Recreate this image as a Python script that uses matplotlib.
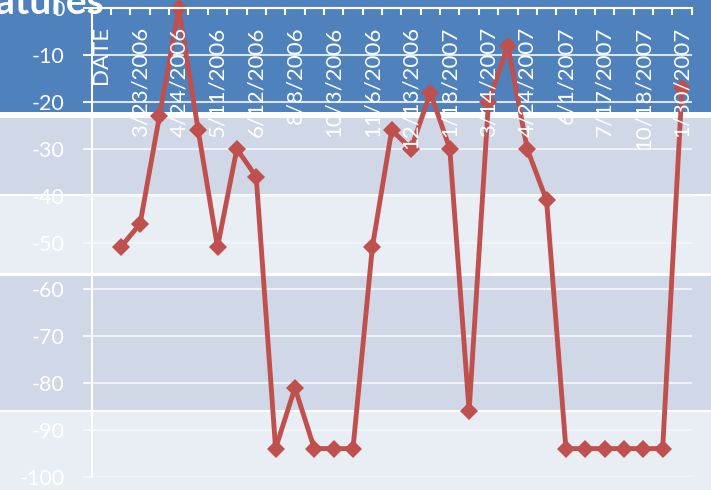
import matplotlib
matplotlib.use("Agg")
import matplotlib.pyplot as plt
from matplotlib.patches import Rectangle
import numpy as np

plt.rcParams['font.family'] = ['Lato', 'DejaVu Sans']

# Category axis: one slot per reading, labels shown on every other slot
tick_labels = ["DATE", "3/23/2006", "4/24/2006", "5/11/2006", "6/12/2006",
               "8/8/2006", "10/3/2006", "11/6/2006", "12/13/2006", "1/18/2007",
               "3/14/2007", "4/24/2007", "6/1/2007", "7/17/2007", "10/18/2007",
               "1/30/2007"]

# Temperature readings (first slot is the header, no value)
temps = [np.nan, -51, -46, -23, 0, -26, -51, -30, -36, -94, -81, -94, -94, -94,
         -51, -26, -30, -18, -30, -86, -20, -8, -30, -41, -94, -94, -94, -94,
         -94, -94, -17]

W, H = 711, 490
fig = plt.figure(figsize=(W / 100, H / 100), dpi=100)
fig.patch.set_facecolor("white")

# Slide table background: header row plus banded rows
bands = [(0, 112, "#4F81BD"), (118, 194, "#D0D8E8"), (196, 273, "#E9EDF4"),
         (276, 410, "#D0D8E8"), (412, 490, "#E9EDF4")]
for top, bot, col in bands:
    fig.add_artist(Rectangle((0, 1 - bot / H), 1, (bot - top) / H,
                             transform=fig.transFigure, facecolor=col,
                             edgecolor="none", zorder=-10))

fig.text(104 / W, 1 - 14 / H, "Temperatures", color="white", fontsize=28,
         fontweight="bold", ha="right", va="baseline")

left, right = 91.7, 691.7
top_px, bot_px = 8.3, 476.7
ax = fig.add_axes([left / W, 1 - bot_px / H, (right - left) / W, (bot_px - top_px) / H])
ax.set_facecolor("none")

n = len(temps)
x = np.arange(n)
ax.set_xlim(-0.5, n - 0.5)
ax.set_ylim(-100, 0)

# Horizontal gridlines
yt = np.arange(-100, 1, 10)
ax.hlines(yt, -0.5, n - 0.5, colors="#F4F6FA", linewidth=1.5, alpha=0.85, zorder=1)

ax.plot(x, temps, color="#C0504D", linewidth=3.5, marker="D", markersize=9.5,
        markeredgewidth=0, clip_on=False, zorder=2)

ax.set_axisbelow(False)
for s in ["top", "right"]:
    ax.spines[s].set_visible(False)
ax.spines["bottom"].set_position(("data", 0))
for s in ["bottom", "left"]:
    ax.spines[s].set_color("white")
    ax.spines[s].set_linewidth(1.5)

# Category boundaries as tick marks, labels centred on every other category
ax.set_xticks(np.arange(n + 1) - 0.5)
ax.set_xticklabels([])
ax.tick_params(axis="x", which="major", direction="out", length=5, width=1.5,
               color="white")
ax.set_xticks(x[::2], tick_labels, minor=True)
ax.tick_params(axis="x", which="minor", length=0, pad=13, labelsize=16,
               labelcolor="white", labelrotation=90)

ax.set_yticks(yt)
ax.set_yticklabels([str(v) for v in yt])
ax.tick_params(axis="y", direction="out", length=6.5, width=1.5, color="#F4F6FA",
               pad=13, labelsize=15.5, labelcolor="white")

fig.savefig("out.png", dpi=100)
